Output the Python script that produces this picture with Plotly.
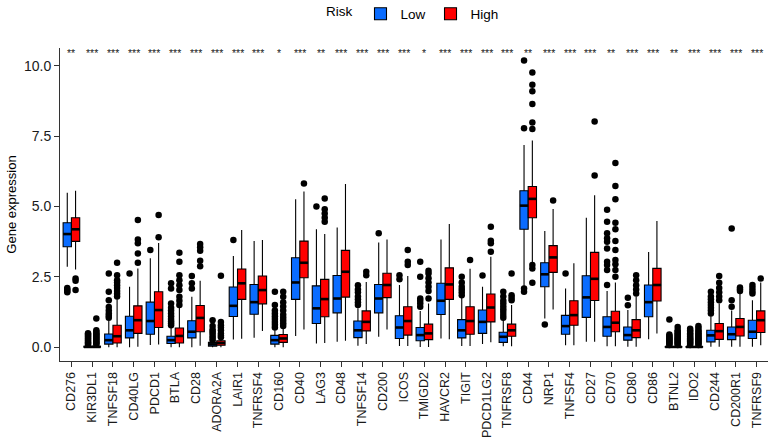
import plotly.graph_objects as go

genes = ["CD276", "KIR3DL1", "TNFSF18", "CD40LG", "PDCD1", "BTLA", "CD28", "ADORA2A",
         "LAIR1", "TNFRSF4", "CD160", "CD40", "LAG3", "CD48", "TNFSF14", "CD200", "ICOS",
         "TMIGD2", "HAVCR2", "TIGIT", "PDCD1LG2", "TNFRSF8", "CD44", "NRP1", "TNFSF4",
         "CD27", "CD70", "CD80", "CD86", "BTNL2", "IDO2", "CD244", "CD200R1", "TNFRSF9"]
sig = ["**", "***", "***", "***", "***", "***", "***", "***", "***", "***", "*", "***", "**",
       "***", "***", "***", "***", "*", "***", "***", "***", "***", "**", "***", "***", "***",
       "**", "***", "***", "**", "***", "***", "***", "***"]

# Low risk group statistics
low_lo = [2.86, 0.0, 0.0, 0.0, 0.08, 0.0, 0.0, 0.0, 0.27, 0.34, 0.0, 0.4, 0.13, 0.19, 0.05, 0.37, 0.04,
          0.01, 0.31, 0.04, 0.11, 0.03, 2.15, 1.02, 0.07, 0.19, 0.03, 0.02, 0.28, 0.0, 0.0, 0.02, 0.02, 0.02]
low_q1 = [3.57, 0.0, 0.11, 0.33, 0.46, 0.13, 0.33, 0.04, 1.09, 1.17, 0.11, 1.7, 0.84, 1.22, 0.34, 1.22, 0.31,
          0.23, 1.16, 0.33, 0.49, 0.17, 4.19, 2.15, 0.46, 1.06, 0.39, 0.25, 1.08, 0.0, 0.0, 0.19, 0.27, 0.31]
low_med = [4.02, 0.01, 0.25, 0.6, 0.93, 0.25, 0.55, 0.1, 1.47, 1.6, 0.25, 2.3, 1.38, 1.73, 0.6, 1.73, 0.7,
           0.43, 1.65, 0.6, 0.9, 0.37, 5.03, 2.59, 0.75, 1.77, 0.72, 0.43, 1.6, 0.01, 0.01, 0.42, 0.46, 0.55]
low_q3 = [4.42, 0.03, 0.47, 1.1, 1.6, 0.39, 0.94, 0.17, 2.14, 2.23, 0.42, 3.18, 2.18, 2.55, 0.93, 2.23, 1.12,
          0.7, 2.27, 0.98, 1.32, 0.53, 5.56, 3.0, 1.13, 2.54, 1.08, 0.72, 2.21, 0.02, 0.02, 0.6, 0.72, 0.96]
low_hi = [5.49, 0.07, 0.95, 2.15, 3.16, 0.7, 1.79, 0.22, 3.24, 3.77, 0.6, 5.26, 4.19, 4.25, 1.38, 3.72, 2.21,
          1.29, 3.83, 1.75, 2.15, 0.95, 7.18, 4.13, 2.09, 4.6, 2.0, 1.32, 3.38, 0.05, 0.05, 1.1, 1.3, 1.67]
low_out = [
    [2.1, 2.05, 2.0, 1.95],
    [0.1, 0.14, 0.18, 0.22, 0.26, 0.3, 0.34, 0.38, 0.42, 0.46, 0.5],
    [1.05, 1.12, 1.2, 1.3, 1.43, 1.67, 1.97, 2.62],
    [2.62],
    [3.45],
    [0.78, 0.85, 0.92, 1.0, 1.1, 1.2, 1.3, 1.4, 1.55, 2.09, 2.27],
    [2.09, 2.27, 2.53],
    [0.25, 0.33, 0.4, 0.49, 0.56, 0.63, 0.75, 0.96],
    [3.81],
    [],
    [0.7, 0.8, 0.9, 1.0, 1.1, 1.2, 1.3, 1.5, 1.97],
    [],
    [5.0],
    [],
    [1.5, 1.6, 1.7, 1.8, 1.95, 2.05, 2.2],
    [4.05],
    [2.41, 2.56],
    [1.44, 1.55, 1.65, 1.73, 2.5, 3.04],
    [],
    [1.85, 1.95, 2.05, 2.15, 2.3, 2.5],
    [2.55],
    [1.05, 1.14, 1.25, 1.35, 1.45, 1.55, 1.65, 1.8, 1.97],
    [1.97, 2.09, 7.78, 10.19],
    [0.81],
    [2.62],
    [],
    [2.21, 2.74, 2.92, 3.04, 3.51, 3.75, 3.87, 4.05, 4.46, 4.88],
    [1.49, 1.76],
    [],
    [0.08, 0.12, 0.16, 0.2, 0.24, 0.28, 0.32, 0.36, 0.4, 0.45, 0.98],
    [0.08, 0.12, 0.16, 0.2, 0.24, 0.28, 0.32, 0.36, 0.4, 0.45, 0.5, 0.55, 0.6, 0.66],
    [1.2, 1.3, 1.4, 1.5, 1.6, 1.7, 1.8, 1.97],
    [1.44, 1.67, 4.22],
    [1.91, 2.0, 2.1, 2.21],
]

# High risk group statistics
high_lo = [2.76, 0.0, 0.0, 0.02, 0.1, 0.0, 0.05, 0.0, 0.3, 0.58, 0.0, 0.63, 0.15, 0.23, 0.11, 0.63, 0.04,
           0.01, 0.28, 0.04, 0.18, 0.03, 2.95, 1.34, 0.07, 0.19, 0.03, 0.02, 0.49, 0.0, 0.0, 0.02, 0.02, 0.07]
high_q1 = [3.76, 0.0, 0.15, 0.49, 0.7, 0.15, 0.55, 0.07, 1.7, 1.54, 0.17, 2.47, 1.08, 1.78, 0.58, 1.76, 0.43,
           0.27, 1.7, 0.46, 0.9, 0.39, 4.6, 2.66, 0.78, 1.66, 0.55, 0.34, 1.64, 0.0, 0.0, 0.28, 0.4, 0.52]
high_med = [4.19, 0.01, 0.39, 0.96, 1.32, 0.4, 1.04, 0.15, 2.27, 2.03, 0.31, 3.0, 1.71, 2.68, 0.9, 2.21, 0.93,
            0.49, 2.23, 0.93, 1.41, 0.6, 5.27, 3.19, 1.14, 2.43, 0.87, 0.6, 2.21, 0.01, 0.01, 0.57, 0.72, 0.96]
high_q3 = [4.6, 0.03, 0.78, 1.47, 1.97, 0.68, 1.48, 0.23, 2.78, 2.53, 0.45, 3.77, 2.41, 3.44, 1.29, 2.63, 1.44,
           0.82, 2.82, 1.44, 1.89, 0.82, 5.71, 3.61, 1.65, 3.37, 1.28, 0.98, 2.8, 0.02, 0.02, 0.84, 1.02, 1.29]
high_hi = [5.56, 0.07, 1.7, 2.8, 3.7, 1.4, 2.36, 0.3, 4.16, 3.81, 0.65, 5.53, 4.02, 5.8, 2.32, 3.83, 2.53,
           1.55, 4.38, 2.79, 3.21, 1.5, 7.34, 4.91, 2.98, 5.4, 2.3, 1.8, 4.48, 0.05, 0.05, 1.55, 1.9, 2.3]
high_out = [
    [2.44, 2.36, 2.03],
    [0.1, 0.14, 0.18, 0.22, 0.26, 0.3, 0.34, 0.38, 0.42, 0.46, 0.5, 0.55, 0.6, 1.02],
    [1.8, 1.9, 2.0, 2.1, 2.2, 2.3, 2.38, 2.56, 3.0],
    [3.0, 3.33, 3.69, 3.83, 4.52],
    [3.91, 4.7],
    [1.5, 1.65, 1.79, 2.03, 2.2, 2.38, 2.56, 3.04, 3.36],
    [2.88, 3.07, 3.43, 3.55, 3.67],
    [0.35, 0.42, 0.49, 0.6, 0.7, 0.78, 0.9, 2.54],
    [],
    [],
    [0.75, 0.85, 0.95, 1.05, 1.15, 1.3, 1.45, 1.6, 1.79, 1.97],
    [5.82],
    [4.46, 4.6, 4.75, 4.9, 5.28],
    [],
    [2.56, 2.68],
    [],
    [2.92, 3.04, 3.45],
    [1.73, 2.0, 2.15, 2.3, 2.45, 2.62, 2.72],
    [],
    [3.1],
    [3.39, 3.69, 3.78, 4.28],
    [1.67, 1.76, 1.85, 2.62],
    [2.29, 2.8, 2.92, 7.75, 7.98, 8.64, 9.09, 9.32, 9.76],
    [5.21],
    [],
    [6.1, 8.02],
    [2.5, 2.74, 2.95, 3.1, 3.45, 3.77, 4.19, 4.42, 5.26, 5.73, 6.54],
    [1.91, 2.05, 2.2, 2.38, 2.56],
    [],
    [0.08, 0.12, 0.16, 0.2, 0.24, 0.28, 0.32, 0.36, 0.4, 0.45, 0.5, 0.55, 0.6, 0.72],
    [0.08, 0.12, 0.16, 0.2, 0.24, 0.28, 0.32, 0.36, 0.4, 0.45, 0.5, 0.55, 0.6, 0.68, 0.75],
    [1.67, 1.8, 1.95, 2.1, 2.29, 2.53],
    [2.0, 2.06, 2.12],
    [2.44],
]

y_ticks = [0.0, 2.5, 5.0, 7.5, 10.0]
y_tick_text = ["0.0", "2.5", "5.0", "7.5", "10.0"]

LOW_COLOR = "#0A6CFF"
HIGH_COLOR = "#FF0000"
OFF = 0.2
W = 0.4
FONT = "Liberation Sans, Arial, Helvetica, sans-serif"
FIG_W, FIG_H = 768, 448

fig = go.Figure()
groups = [("Low", -OFF, LOW_COLOR, low_lo, low_q1, low_med, low_q3, low_hi, low_out),
          ("High", OFF, HIGH_COLOR, high_lo, high_q1, high_med, high_q3, high_hi, high_out)]

for name, off, col, lo, q1, med, q3, hi, out in groups:
    xs = [i + off for i in range(len(genes))]
    fig.add_trace(go.Box(
        name=name, x=xs, q1=q1, median=med, q3=q3, lowerfence=lo, upperfence=hi,
        width=W, fillcolor=col, line=dict(color="black", width=1.1),
        whiskerwidth=0, boxpoints=False, showlegend=True, hoverinfo="skip"))
    # thicker median segments
    mx, my = [], []
    for i, m in enumerate(med):
        mx += [i + off - W / 2, i + off + W / 2, None]
        my += [m, m, None]
    fig.add_trace(go.Scatter(x=mx, y=my, mode="lines", line=dict(color="black", width=2.6),
                             showlegend=False, hoverinfo="skip"))
    ox, oy = [], []
    for i, vals in enumerate(out):
        for v in vals:
            ox.append(i + off)
            oy.append(v)
    fig.add_trace(go.Scatter(x=ox, y=oy, mode="markers",
                             marker=dict(color="black", size=6.5, line=dict(width=0)),
                             showlegend=False, hoverinfo="skip"))

for i, s in enumerate(sig):
    fig.add_annotation(x=i, y=10.47, text=s, showarrow=False, yanchor="middle",
                       font=dict(size=10.5, color="#222222", family=FONT))

fig.update_layout(
    width=FIG_W, height=FIG_H,
    margin=dict(l=60, r=0, t=48, b=87),
    paper_bgcolor="white", plot_bgcolor="white",
    boxmode="overlay",
    hovermode=False,
    font=dict(family=FONT, color="black", size=12),
    legend=dict(orientation="h", x=0.5, xanchor="center", y=1 - 14 / FIG_H, yanchor="middle",
                yref="container", title=dict(text="Risk", side="left", font=dict(size=13.5)),
                font=dict(size=13.5), itemwidth=30, traceorder="normal"),
    xaxis=dict(range=[-0.55, 33.55], tickmode="array", tickvals=list(range(len(genes))),
               ticktext=genes, tickangle=-90, showline=True, linecolor="#333333", linewidth=1,
               ticks="outside", ticklen=5, tickcolor="#333333", showgrid=False, zeroline=False,
               tickfont=dict(size=12.5, color="#1a1a1a"), automargin=False),
    yaxis=dict(range=[-0.49, 10.63], tickmode="array", tickvals=y_ticks, ticktext=y_tick_text,
               showline=True, linecolor="#333333", linewidth=1, ticks="outside", ticklen=5,
               tickcolor="#333333", showgrid=False, zeroline=False, automargin=False,
               tickfont=dict(size=14, color="#1a1a1a"),
               title=dict(text="Gene expression", font=dict(size=13), standoff=4)),
)

fig.write_html("out.html",
               config={"displayModeBar": False},
               post_script="document.body.style.margin='0';document.body.style.overflow='hidden';")
